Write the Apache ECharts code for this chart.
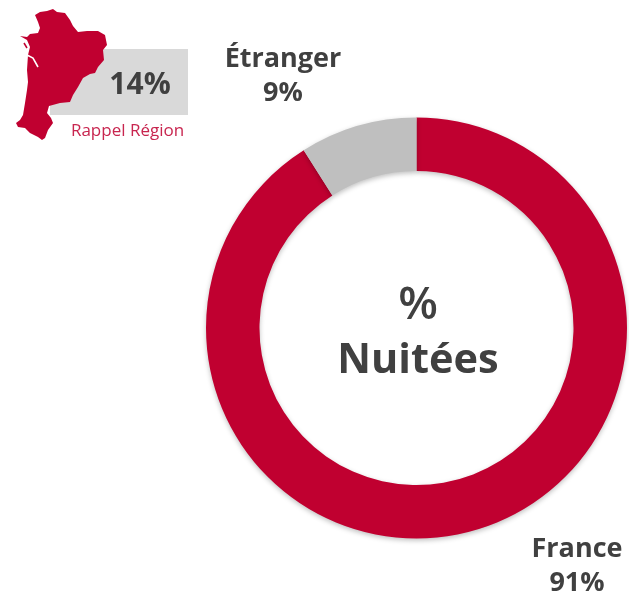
<!DOCTYPE html>
<html><head><meta charset="utf-8">
<style>html,body{margin:0;padding:0;background:#fff}#c{width:629px;height:595px}</style>
<script src="https://cdn.jsdelivr.net/npm/echarts@6/dist/echarts.min.js"></script>
</head><body><div id="c"></div>
<script>
const categories = ['France', 'Étranger'];
const shares = [91, 9];
const sliceColors = ['#C00030', '#BFBFBF'];
const centerLines = ['%', 'Nuitées'];
const regionValue = '14%';
const regionCaption = 'Rappel Région';
const regionOutline = [[35,15],[40,12],[47,11],[53,9],[57,12],[65,13],[70,20],[73,26],[78,32],[87,31],[98,31],[105,35],[107,45],[103,50],[104,60],[98,67],[95,73],[90,74],[83,78],[78,87],[73,95],[70,102],[60,103],[49,106],[47,113],[51,118],[53,123],[48,130],[45,138],[42,140],[38,137],[30,133],[25,128],[18,127],[16,123],[20,120],[23,115],[25,103],[27,90],[28,82],[27,70],[28,55],[30,47],[27,40],[20,36],[27,37],[30,34],[38,33],[40,28],[38,22]];
const FONT = 'Open Sans';
const TXT = '#404040';
const labelPos = {France:[577,566], 'Étranger':[283,76]};

const chart = echarts.init(document.getElementById('c'));
chart.setOption({
  animation:false,
  series:[{
    type:'pie', center:[416.5,328], radius:[157,210.5], startAngle:90, clockwise:true,
    silent:true,
    data:categories.map((n,i)=>({name:n,value:shares[i],itemStyle:{color:sliceColors[i],shadowBlur:5,shadowOffsetY:2,shadowColor:'rgba(0,0,0,0.25)'}})),
    label:{show:true,position:'outside',formatter:p=>p.name+'\n'+p.value+'%',fontFamily:FONT,fontWeight:'bold',fontSize:27,lineHeight:34,color:TXT,align:'center',verticalAlign:'middle'},
    labelLine:{show:false},
    labelLayout:p=>{const k=categories[p.dataIndex];return {x:labelPos[k][0],y:labelPos[k][1],align:'center',verticalAlign:'middle',hideOverlap:false};}
  }],
  graphic:[
    {type:'rect',z:1,shape:{x:50,y:49,width:138,height:66},style:{fill:'#D9D9D9'}},
    {type:'polygon',z:2,shape:{points:regionOutline},style:{fill:'#C00030'}},
    {type:'polyline',z:3,shape:{points:[[27,55],[33,58],[38,67]]},style:{stroke:'#fff',lineWidth:1.6,fill:null}},
    {type:'polyline',z:3,shape:{points:[[24,43],[27,48]]},style:{stroke:'#C00030',lineWidth:1.5,fill:null}},
    {type:'text',z:3,style:{text:regionValue,x:140,y:85,align:'center',verticalAlign:'middle',font:'bold 30px '+FONT,fill:TXT}},
    {type:'text',z:3,style:{text:regionCaption,x:127.5,y:131,align:'center',verticalAlign:'middle',font:'17px '+FONT,fill:'#C8254F'}},
    {type:'text',z:3,style:{text:centerLines[0],x:418,y:306,align:'center',verticalAlign:'middle',font:'600 46px '+FONT,fill:TXT}},
    {type:'text',z:3,style:{text:centerLines[1],x:418,y:361,align:'center',verticalAlign:'middle',font:'bold 41.5px '+FONT,fill:TXT}}
  ]
});
</script></body></html>
